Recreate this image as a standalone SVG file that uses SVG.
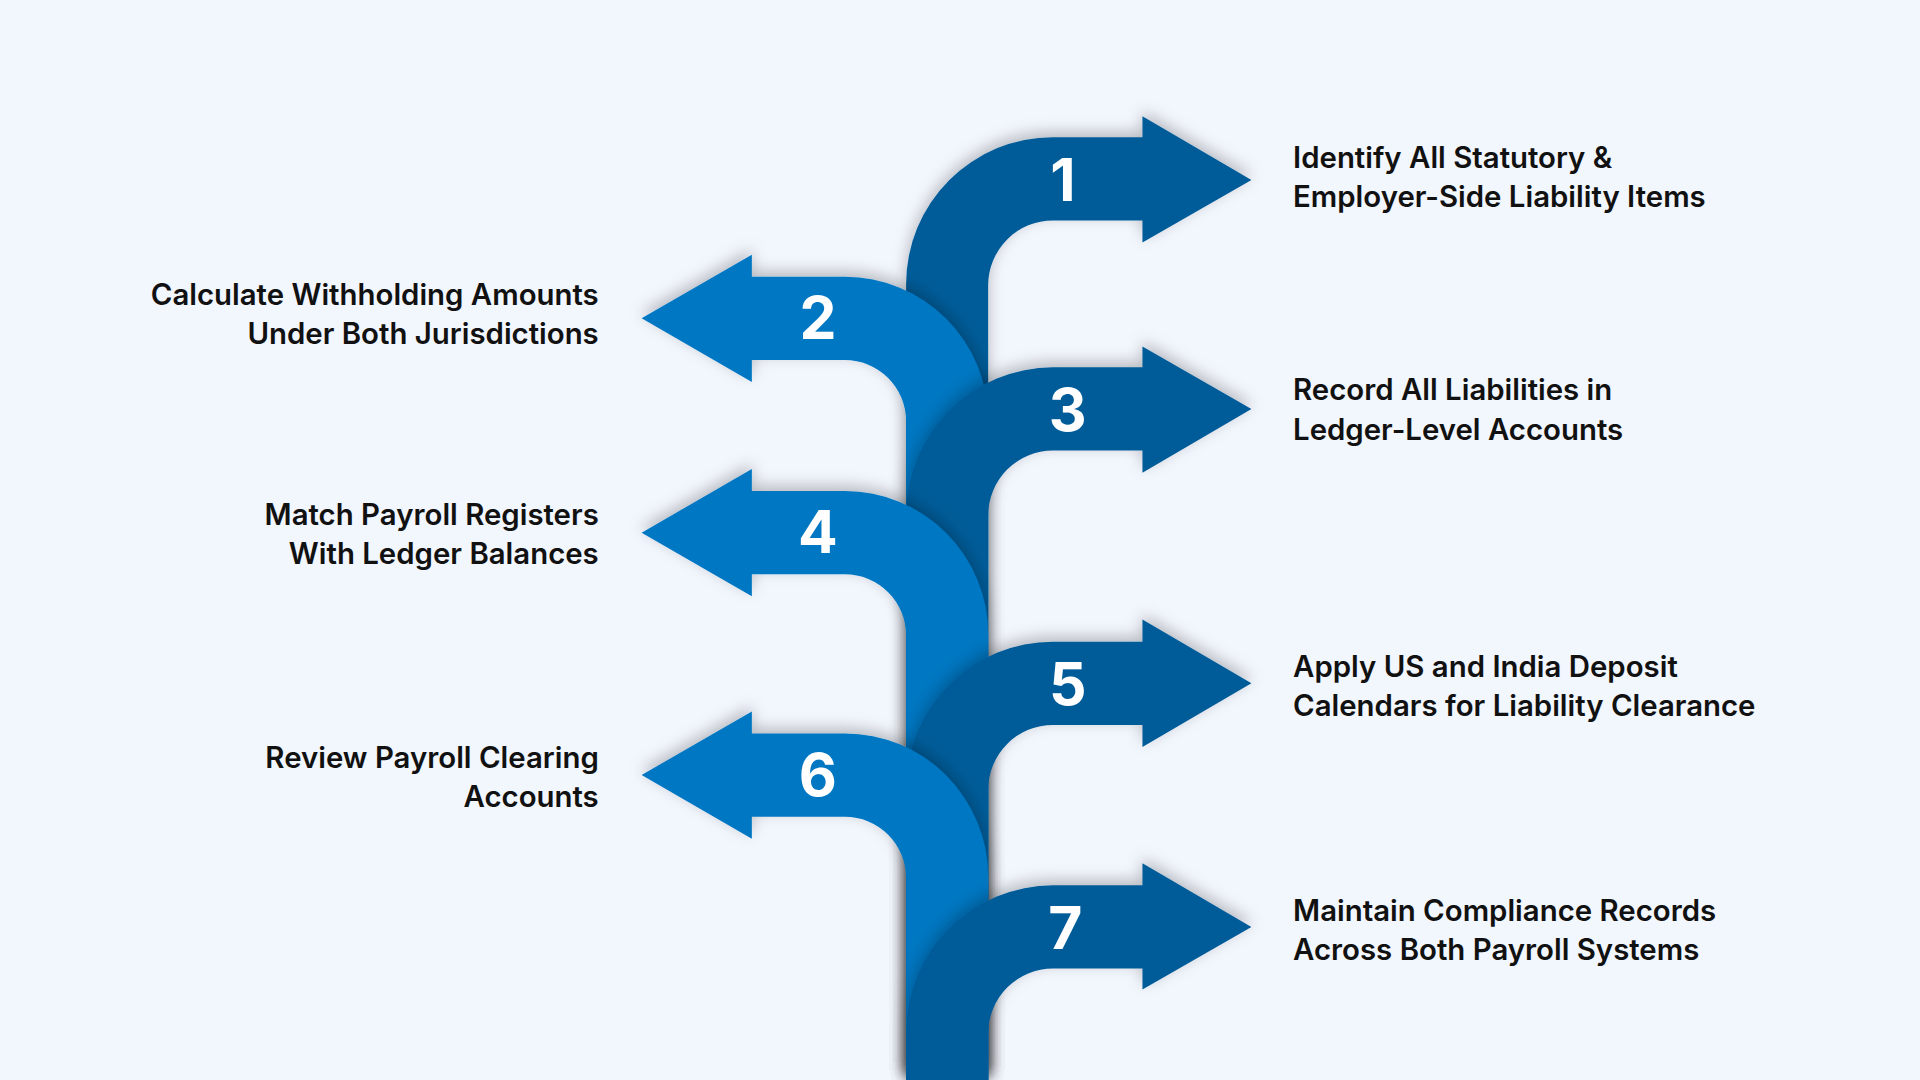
<svg xmlns="http://www.w3.org/2000/svg" width="1920" height="1080" viewBox="0 0 1920 1080">
<defs>
<filter id="sh" x="-20%" y="-20%" width="140%" height="140%"><feDropShadow dx="0" dy="-4" stdDeviation="6" flood-color="#000" flood-opacity="0.25"/></filter>
</defs>
<style>
.d{fill:#065b98;filter:url(#sh)}
.l{fill:#0677c2;filter:url(#sh)}
.n{font-family:Inter,"Liberation Sans",sans-serif;font-weight:700;font-size:48px;fill:#fff;text-anchor:middle}
.t{font-family:Inter,"Liberation Sans",sans-serif;font-weight:600;font-size:24px;fill:#111}
.r{text-anchor:end}
</style>
<rect width="1920" height="1080" fill="#f2f6fd"/>
<g transform="scale(1.22449)">
<g id="connectors">
<g id="n1"><path class="d" d="M740,882 L740,232 A120,120 0 0 1 860,112 L933,112 L933,95 L1022,147 L933,198 L933,180 L860,180 A53,53 0 0 0 807,233 L807,882 Z"/><text class="n" x="868" y="164">1</text></g>
<g id="n2"><path class="l" d="M807,882 L807,343 A117,117 0 0 0 690,226 L614,226 L614,208 L524,260 L614,312 L614,294 L690,294 A50,50 0 0 1 740,344 L740,882 Z"/><text class="n" x="668" y="277">2</text></g>
<g id="n3"><path class="d" d="M740,882 L740,420 A120,120 0 0 1 860,300 L933,300 L933,283 L1022,334 L933,386 L933,368 L860,368 A53,53 0 0 0 807,421 L807,882 Z"/><text class="n" x="872" y="352">3</text></g>
<g id="n4"><path class="l" d="M807,882 L807,518 A117,117 0 0 0 690,401 L614,401 L614,383 L524,435 L614,487 L614,469 L690,469 A50,50 0 0 1 740,519 L740,882 Z"/><text class="n" x="668" y="452">4</text></g>
<g id="n5"><path class="d" d="M740,882 L740,644 A120,120 0 0 1 860,524 L933,524 L933,506 L1022,558 L933,610 L933,592 L860,592 A53,53 0 0 0 807,645 L807,882 Z"/><text class="n" x="872" y="576">5</text></g>
<g id="n6"><path class="l" d="M807,882 L807,716 A117,117 0 0 0 690,599 L614,599 L614,581 L524,633 L614,685 L614,667 L690,667 A50,50 0 0 1 740,717 L740,882 Z"/><text class="n" x="668" y="650">6</text></g>
<g id="n7"><path class="d" d="M740,882 L740,843 A120,120 0 0 1 860,723 L933,723 L933,705 L1022,757 L933,808 L933,791 L860,791 A53,53 0 0 0 807,844 L807,882 Z"/><text class="n" x="870" y="775">7</text></g>
</g>
<g id="labels">
<text class="t" x="1056" y="137">Identify All Statutory &amp;</text>
<text class="t" x="1056" y="169">Employer-Side Liability Items</text>
<text class="t r" x="489" y="249">Calculate Withholding Amounts</text>
<text class="t r" x="489" y="281">Under Both Jurisdictions</text>
<text class="t" x="1056" y="327">Record All Liabilities in</text>
<text class="t" x="1056" y="359">Ledger-Level Accounts</text>
<text class="t r" x="489" y="429">Match Payroll Registers</text>
<text class="t r" x="489" y="461">With Ledger Balances</text>
<text class="t" x="1056" y="553">Apply US and India Deposit</text>
<text class="t" x="1056" y="585">Calendars for Liability Clearance</text>
<text class="t r" x="489" y="627">Review Payroll Clearing</text>
<text class="t r" x="489" y="659">Accounts</text>
<text class="t" x="1056" y="752">Maintain Compliance Records</text>
<text class="t" x="1056" y="784">Across Both Payroll Systems</text>
</g>
</g>
</svg>
